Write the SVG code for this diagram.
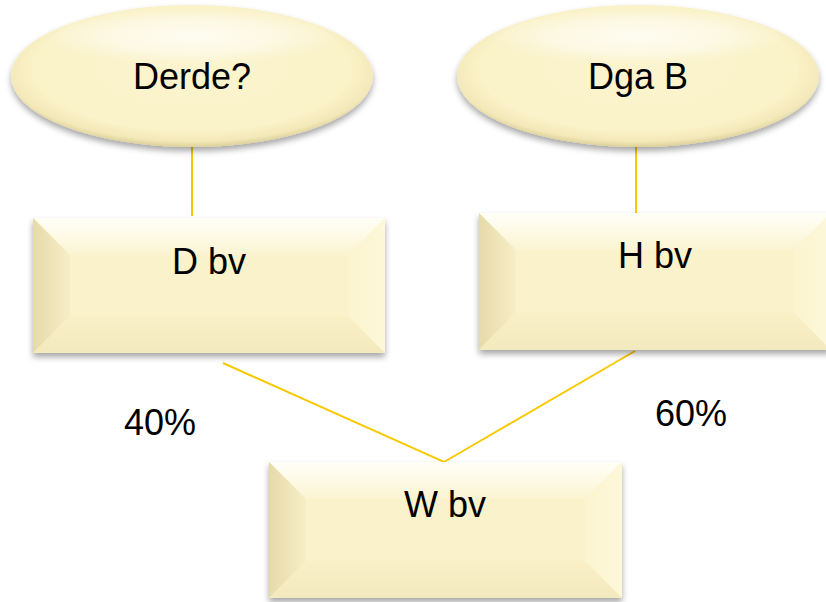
<svg xmlns="http://www.w3.org/2000/svg" width="826" height="602" viewBox="0 0 826 602">
  <defs>
    <filter id="shadow" x="-10%" y="-10%" width="120%" height="130%">
      <feDropShadow dx="0" dy="4" stdDeviation="3" flood-color="#000" flood-opacity="0.35"/>
    </filter>
    <radialGradient id="ellFill" cx="0.5" cy="0.45" r="0.55">
      <stop offset="0" stop-color="#FBF4CE"/>
      <stop offset="0.8" stop-color="#FAF2C8"/>
      <stop offset="0.93" stop-color="#F3E8B8"/>
      <stop offset="1" stop-color="#DDD09A"/>
    </radialGradient>
    <radialGradient id="ellHi" cx="0.5" cy="0.5" r="0.5">
      <stop offset="0" stop-color="#FFFFFF" stop-opacity="0.75"/>
      <stop offset="0.6" stop-color="#FFFFFF" stop-opacity="0.45"/>
      <stop offset="1" stop-color="#FFFFFF" stop-opacity="0"/>
    </radialGradient>
    <linearGradient id="bvTop" x1="0" y1="0" x2="0" y2="1">
      <stop offset="0" stop-color="#FFFFF8"/>
      <stop offset="1" stop-color="#FBF4D2"/>
    </linearGradient>
    <linearGradient id="bvLeft" x1="0" y1="0" x2="1" y2="0">
      <stop offset="0" stop-color="#E6DAAA"/>
      <stop offset="1" stop-color="#F7EEC8"/>
    </linearGradient>
    <linearGradient id="bvRight" x1="0" y1="0" x2="1" y2="0">
      <stop offset="0" stop-color="#FBF4CF"/>
      <stop offset="1" stop-color="#FDF8DA"/>
    </linearGradient>
    <linearGradient id="bvBottom" x1="0" y1="0" x2="0" y2="1">
      <stop offset="0" stop-color="#F9F0C8"/>
      <stop offset="1" stop-color="#F3E9BE"/>
    </linearGradient>
    <linearGradient id="bvFace" x1="0" y1="0" x2="0" y2="1">
      <stop offset="0" stop-color="#FBF4CF"/>
      <stop offset="1" stop-color="#F9F0C6"/>
    </linearGradient>
  </defs>
  <style>
    .lbl { font-family: "Liberation Sans", Arial, sans-serif; font-size: 36px; fill: #000; }
    .mid { text-anchor: middle; }
    .conn { stroke: #F9C900; stroke-width: 2; fill: none; }
    .face { fill: url(#bvFace); }
    .top { fill: url(#bvTop); }
    .left { fill: url(#bvLeft); }
    .right { fill: url(#bvRight); }
    .bottom { fill: url(#bvBottom); }
  </style>
  <rect width="826" height="602" fill="#FFFFFF"/>

  <g id="connectors">
    <line class="conn" x1="192" y1="133" x2="192" y2="216"/>
    <line class="conn" x1="636" y1="133" x2="636" y2="216"/>
    <polyline class="conn" points="223,363 444,462 635,351"/>
  </g>

  <g id="node-derde">
    <ellipse cx="192" cy="76" rx="181" ry="71" fill="url(#ellFill)" filter="url(#shadow)"/>
    <ellipse cx="192" cy="36" rx="150" ry="28" fill="url(#ellHi)"/>
    <text class="lbl mid" x="192" y="89">Derde?</text>
  </g>

  <g id="node-dgab">
    <ellipse cx="638" cy="76" rx="181" ry="71" fill="url(#ellFill)" filter="url(#shadow)"/>
    <ellipse cx="638" cy="36" rx="150" ry="28" fill="url(#ellHi)"/>
    <text class="lbl mid" x="638" y="89">Dga B</text>
  </g>

  <g id="node-dbv">
    <rect class="face" x="33" y="218" width="352" height="135" filter="url(#shadow)"/>
    <polygon class="top" points="33,218 385,218 348,255 70,255"/>
    <polygon class="left" points="33,218 70,255 70,316 33,353"/>
    <polygon class="right" points="385,218 385,353 348,316 348,255"/>
    <polygon class="bottom" points="33,353 70,316 348,316 385,353"/>
    <rect x="70" y="255" width="278" height="61" fill="#FAF2CA"/>
    <text class="lbl mid" x="209" y="274">D bv</text>
  </g>

  <g id="node-hbv">
    <rect class="face" x="479" y="213" width="352" height="137" filter="url(#shadow)"/>
    <polygon class="top" points="479,213 831,213 794,250 516,250"/>
    <polygon class="left" points="479,213 516,250 516,313 479,350"/>
    <polygon class="right" points="831,213 831,350 794,313 794,250"/>
    <polygon class="bottom" points="479,350 516,313 794,313 831,350"/>
    <rect x="516" y="250" width="278" height="63" fill="#FAF2CA"/>
    <text class="lbl mid" x="655" y="268">H bv</text>
  </g>

  <g id="node-wbv">
    <rect class="face" x="269" y="462" width="353" height="136" filter="url(#shadow)"/>
    <polygon class="top" points="269,462 622,462 585,499 306,499"/>
    <polygon class="left" points="269,462 306,499 306,561 269,598"/>
    <polygon class="right" points="622,462 622,598 585,561 585,499"/>
    <polygon class="bottom" points="269,598 306,561 585,561 622,598"/>
    <rect x="306" y="499" width="279" height="62" fill="#FAF2CA"/>
    <text class="lbl mid" x="445" y="517">W bv</text>
  </g>

  <g id="labels">
    <text class="lbl" x="124" y="435">40%</text>
    <text class="lbl" x="655" y="426">60%</text>
  </g>
</svg>
